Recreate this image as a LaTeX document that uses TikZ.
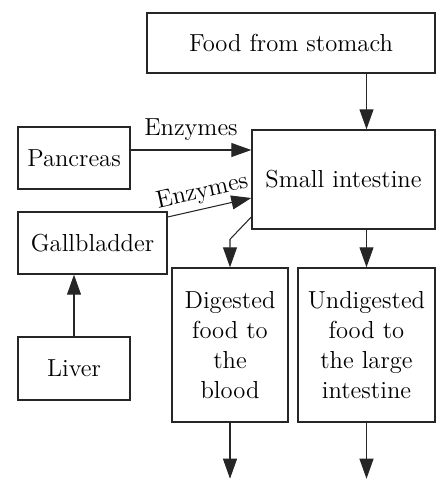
\documentclass[tikz,border=0pt]{standalone}
\usepackage{tikz}
\usetikzlibrary{positioning,arrows.meta}
\usepackage{xcolor}

\begin{document}
\begin{tikzpicture}[
  organ/.style={draw=black!85, line width=0.8pt, minimum width=2.24cm, minimum height=1.24cm, align=center, font=\fontsize{14}{17}\selectfont, inner sep=2pt},
  tall/.style={organ, minimum height=3.08cm},
  arr/.style={-{Triangle[length=0.4cm, width=0.28cm]}, draw=black!85, line width=0.6pt},
  lbl/.style={font=\fontsize{14}{17}\selectfont, inner sep=2pt}
]
  \useasboundingbox (0,0) rectangle (8.82,-9.62);
  \node[organ, minimum width=5.76cm, minimum height=1.2cm] (food) at (5.82,-0.86) {Food from stomach};
  \node[organ, minimum width=3.66cm, minimum height=1.98cm] (small) at (6.87,-3.59) {Small intestine};
  \node[organ] (pancreas) at (1.48,-3.16) {Pancreas};
  \node[organ, minimum width=2.98cm] (gall) at (1.85,-4.86) {Gallbladder};
  \node[organ, minimum height=1.26cm] (liver) at (1.48,-7.37) {Liver};
  \node[tall, minimum width=2.32cm] (digested) at (4.6,-6.9) {Digested\\food to\\the\\blood};
  \node[tall, minimum width=2.74cm] (undig) at (7.33,-6.9) {Undigested\\food to\\the large\\intestine};
  \coordinate[below=1.12cm of digested.south] (blood);
  \coordinate[below=1.12cm of undig.south] (large);

  \draw[arr] (food.south -| undig) -- (small.north -| undig);
  \draw[arr] ([yshift=0.16cm]pancreas.east) -- ([yshift=0.16cm]pancreas.east -| small.west)
    node[lbl, midway, above, yshift=3pt] {Enzymes};
  \draw[arr] ([yshift=0.52cm]gall.east) -- ([yshift=-0.37cm]small.west)
    node[lbl, midway, above, sloped, xshift=-2pt, yshift=1pt] {Enzymes};
  \draw[arr] (liver.north) -- (liver.north |- gall.south);
  \draw[arr] ([yshift=-0.75cm]small.west) -- ([yshift=0.56cm]digested.north) -- (digested.north);
  \draw[arr] (small.south -| undig) -- (undig.north);
  \draw[arr] (digested.south) -- (blood);
  \draw[arr] (undig.south) -- (large);
\end{tikzpicture}
\end{document}
